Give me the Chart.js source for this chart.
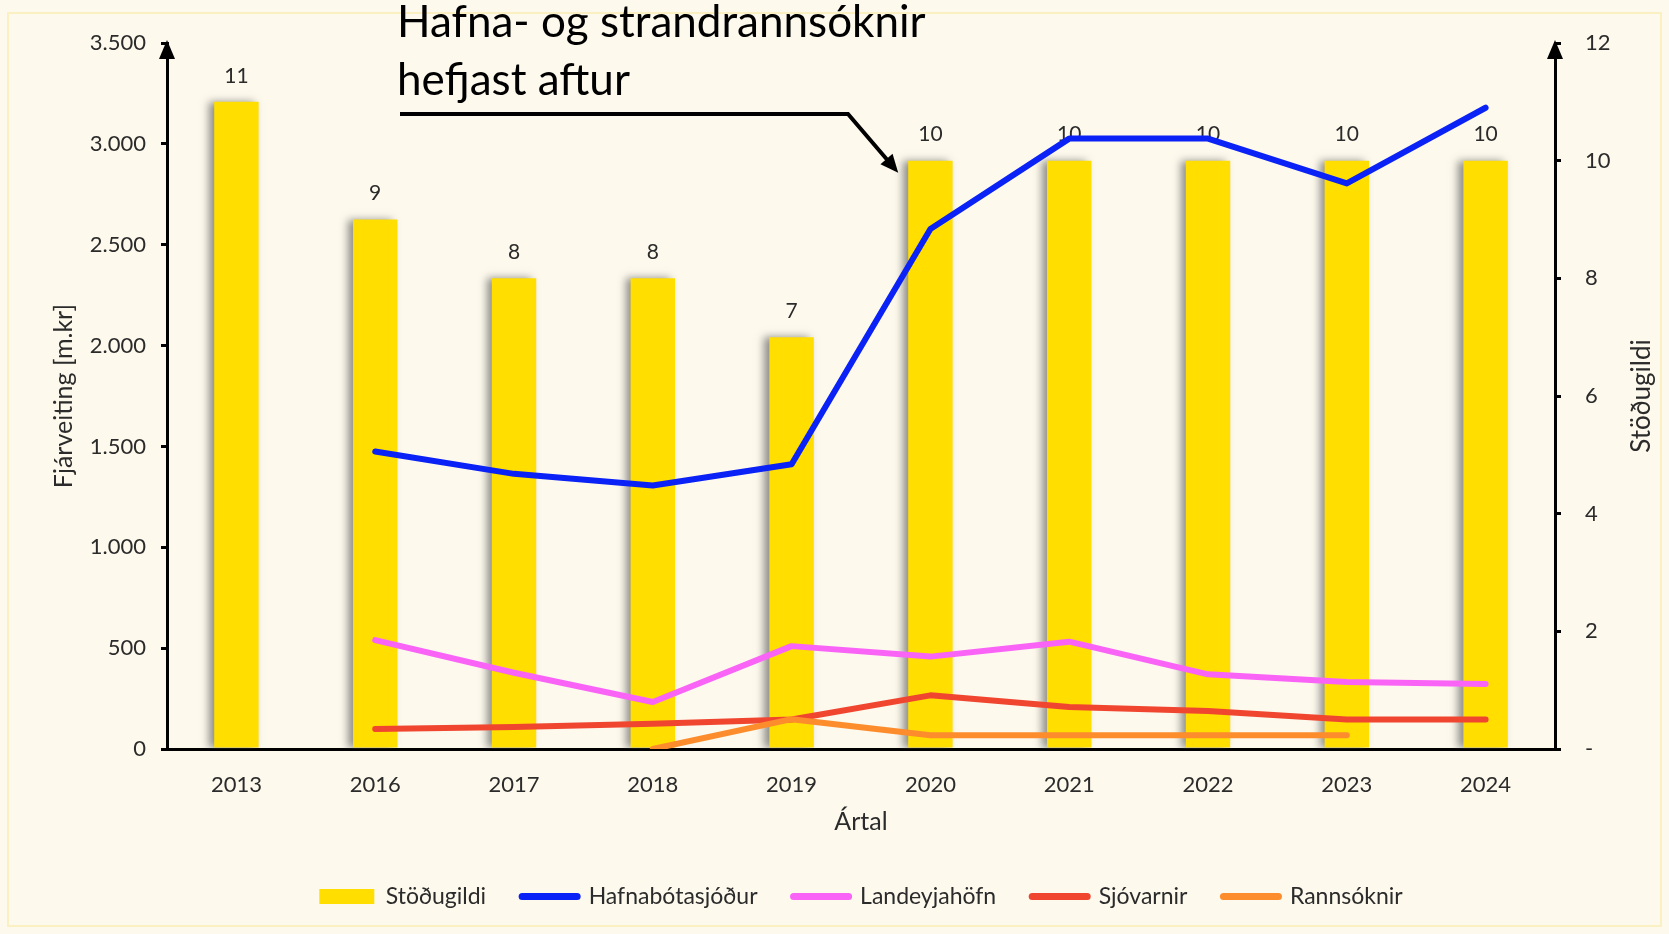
<!DOCTYPE html>
<html>
<head>
<meta charset="utf-8">
<script src="https://cdn.jsdelivr.net/npm/chart.js@4"></script>
<style>
  body { margin: 0; background: #fdf9ed; }
  canvas { display: block; }
</style>
</head>
<body>
<canvas id="chart" width="1669" height="934"></canvas>
<script>
// Chart data
const years = ["2013", "2016", "2017", "2018", "2019", "2020", "2021", "2022", "2023", "2024"];
const stodugildi = [11, 9, 8, 8, 7, 10, 10, 10, 10, 10];
const hafnabotasjodur = [null, 1475, 1364, 1306, 1412, 2578, 3026, 3026, 2804, 3179];
const landeyjahofn = [null, 540, 378, 233, 510, 458, 532, 370, 332, 322];
const sjovarnir = [null, 99, 109, 125, 146, 266, 208, 188, 146, 146];
const rannsoknir = [null, null, null, 0, 148, 68, 68, 68, 68, null];
const leftTicks = [0, 500, 1000, 1500, 2000, 2500, 3000, 3500];
const rightTicks = [0, 2, 4, 6, 8, 10, 12];

const noteLines = ["Hafna- og strandrannsóknir", "hefjast aftur"];
const noteYear = "2020";

const textColor = "#2b2b2b";
const barColor = "#ffde00";
Chart.defaults.font.family = "Lato";

// thousands separator with a dot
function fmt(v) {
  return String(v).replace(/\B(?=(\d{3})+(?!\d))/g, ".");
}

function arrowHead(ctx, x, y, angle, len, half) {
  ctx.save();
  ctx.translate(x, y);
  ctx.rotate(angle);
  ctx.beginPath();
  ctx.moveTo(0, 0);
  ctx.lineTo(-len, -half);
  ctx.lineTo(-len, half);
  ctx.closePath();
  ctx.fill();
  ctx.restore();
}

// Shadow + value labels for the bars, annotation and extras
const extras = {
  id: "extras",
  beforeDatasetDraw(chart, args) {
    if (args.index !== 0) return;
    const ctx = chart.ctx;
    ctx.save();
    ctx.shadowColor = "rgba(70,70,70,0.6)";
    ctx.shadowBlur = 8;
    ctx.shadowOffsetX = -5;
    ctx.shadowOffsetY = 0;
  },
  afterDatasetDraw(chart, args) {
    if (args.index !== 0) return;
    const ctx = chart.ctx;
    ctx.restore();
    ctx.save();
    ctx.fillStyle = textColor;
    ctx.font = "21px Lato";
    ctx.textAlign = "center";
    ctx.textBaseline = "middle";
    args.meta.data.forEach((bar, i) => {
      ctx.fillText(stodugildi[i], bar.x, bar.y - 26);
    });
    ctx.restore();
  },
  afterDraw(chart) {
    const ctx = chart.ctx;
    const area = chart.chartArea;
    ctx.save();

    // light frame
    ctx.strokeStyle = "#fbf0c2";
    ctx.lineWidth = 2;
    ctx.strokeRect(8, 13, 1653, 913);

    // arrows on top of the y axes
    ctx.fillStyle = "#000";
    [area.left, area.right].forEach((x) => {
      ctx.beginPath();
      ctx.moveTo(x, area.top - 3);
      ctx.lineTo(x - 8, area.top + 16);
      ctx.lineTo(x + 8, area.top + 16);
      ctx.closePath();
      ctx.fill();
    });

    // right axis title
    ctx.fillStyle = textColor;
    ctx.font = "26px Lato";
    ctx.textAlign = "center";
    ctx.textBaseline = "middle";
    ctx.translate(1642, (area.top + area.bottom) / 2);
    ctx.rotate(-Math.PI / 2);
    ctx.fillText("Stöðugildi", 0, 0);
    ctx.setTransform(1, 0, 0, 1, 0, 0);

    // annotation text
    ctx.fillStyle = "#000";
    ctx.textAlign = "left";
    ctx.textBaseline = "alphabetic";
    let size = 40;
    ctx.font = size + "px Lato";
    size = size * 528 / ctx.measureText(noteLines[0]).width;
    ctx.font = size.toFixed(1) + "px Lato";
    ctx.fillText(noteLines[0], 397, 37);
    ctx.fillText(noteLines[1], 397, 95);

    // leader line with arrow to the 2020 bar
    const meta = chart.getDatasetMeta(0);
    const bar = meta.data[years.indexOf(noteYear)];
    const tipX = bar.x - bar.width / 2 - 10;
    const tipY = bar.y + 12;
    const elbowX = 848, elbowY = 114;
    ctx.strokeStyle = "#000";
    ctx.lineWidth = 4;
    ctx.beginPath();
    ctx.moveTo(400, elbowY);
    ctx.lineTo(elbowX, elbowY);
    const ang = Math.atan2(tipY - elbowY, tipX - elbowX);
    ctx.lineTo(tipX - Math.cos(ang) * 14, tipY - Math.sin(ang) * 14);
    ctx.stroke();
    arrowHead(ctx, tipX, tipY, ang, 18, 8);
    ctx.restore();
  }
};

function lineSet(label, data, color, order) {
  return {
    type: "line",
    label: label,
    data: data,
    yAxisID: "y",
    borderColor: color,
    backgroundColor: color,
    borderWidth: 6,
    pointRadius: 0,
    borderCapStyle: "round",
    borderJoinStyle: "round",
    order: order,
  };
}

const ctx = document.getElementById("chart").getContext("2d");
const chart = new Chart(ctx, {
  data: {
    labels: years,
    datasets: [
      {
        type: "bar",
        label: "Stöðugildi",
        data: stodugildi,
        yAxisID: "y1",
        backgroundColor: barColor,
        borderWidth: 0,
        barPercentage: 0.32,
        categoryPercentage: 1,
        order: 10,
      },
      lineSet("Hafnabótasjóður", hafnabotasjodur, "#0a22f5", 1),
      lineSet("Landeyjahöfn", landeyjahofn, "#f964f7", 4),
      lineSet("Sjóvarnir", sjovarnir, "#f04630", 3),
      lineSet("Rannsóknir", rannsoknir, "#fd8c2c", 2),
    ],
  },
  options: {
    responsive: false,
    animation: false,
    layout: { padding: { top: 43, left: 0, right: 0, bottom: 16 } },
    scales: {
      x: {
        type: "category",
        offset: true,
        grid: { display: false, drawTicks: false },
        border: { display: true, color: "#000", width: 3 },
        ticks: { color: textColor, font: { size: 22 }, padding: 23 },
        title: {
          display: true,
          text: "Ártal",
          color: textColor,
          font: { size: 25 },
          padding: { top: 0, bottom: 12 },
        },
        afterFit: (s) => { s.height = 100; },
      },
      y: {
        position: "left",
        min: 0,
        max: leftTicks[leftTicks.length - 1],
        afterBuildTicks: (s) => { s.ticks = leftTicks.map((v) => ({ value: v })); },
        grid: { drawOnChartArea: false, drawTicks: true, tickLength: 6, color: "#000", lineWidth: 3 },
        border: { display: true, color: "#000", width: 3 },
        ticks: { color: textColor, font: { size: 22 }, padding: 15, callback: (v) => fmt(v) },
        title: {
          display: true,
          text: "Fjárveiting [m.kr]",
          color: textColor,
          font: { size: 25 },
          padding: { top: 49, bottom: 0 },
        },
        afterFit: (s) => { s.width = 167; },
      },
      y1: {
        position: "right",
        min: 0,
        max: rightTicks[rightTicks.length - 1],
        afterBuildTicks: (s) => { s.ticks = rightTicks.map((v) => ({ value: v })); },
        grid: { drawOnChartArea: false, drawTicks: true, tickLength: 6, color: "#000", lineWidth: 3 },
        border: { display: true, color: "#000", width: 3 },
        ticks: { color: textColor, font: { size: 22 }, padding: 24, callback: (v) => (v === 0 ? "-" : v) },
        afterFit: (s) => { s.width = 114; },
      },
    },
    plugins: {
      tooltip: { enabled: false },
      legend: {
        position: "bottom",
        fullSize: false,
        labels: {
          color: textColor,
          font: { size: 23 },
          usePointStyle: true,
          pointStyleWidth: 55,
          boxHeight: 15,
          padding: 36,
          sort: (a, b) => a.datasetIndex - b.datasetIndex,
          generateLabels(chart) {
            const items = Chart.defaults.plugins.legend.labels.generateLabels(chart);
            items.forEach((it) => {
              const ds = chart.data.datasets[it.datasetIndex];
              if (ds.type === "bar") {
                it.pointStyle = "rect";
                it.lineWidth = 0;
                it.fillStyle = barColor;
                it.strokeStyle = barColor;
              } else {
                it.pointStyle = "line";
                it.lineWidth = 7;
                it.strokeStyle = ds.borderColor;
                it.lineCap = "round";
              }
            });
            return items;
          },
        },
      },
    },
  },
  plugins: [extras],
});
</script>
</body>
</html>
